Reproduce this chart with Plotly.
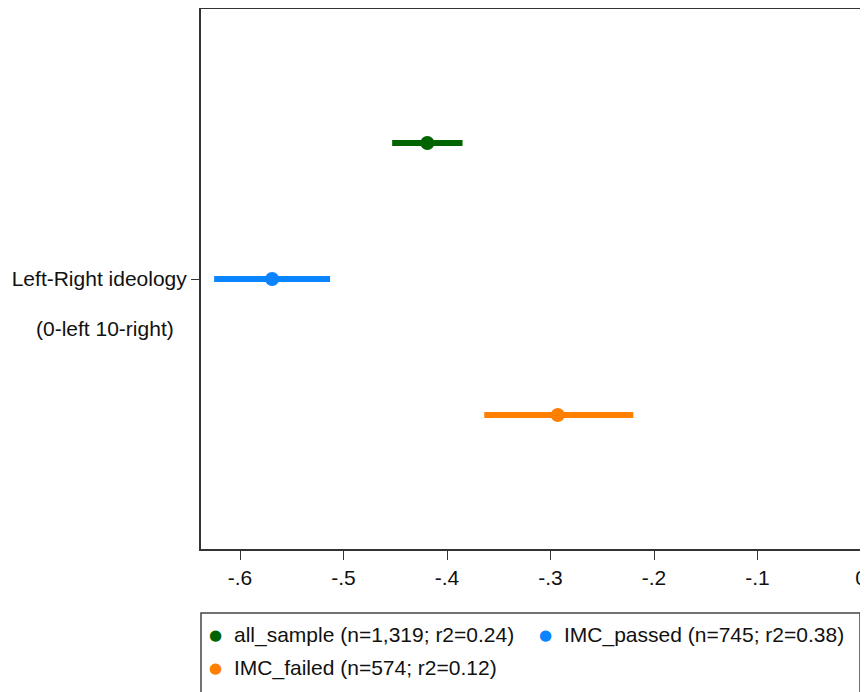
import plotly.graph_objects as go

# Data
series_names = ["all_sample (n=1,319; r2=0.24)",
                "IMC_passed (n=745; r2=0.38)",
                "IMC_failed (n=574; r2=0.12)"]
coef = [-0.419, -0.569, -0.293]
ci_low = [-0.453, -0.625, -0.364]
ci_high = [-0.385, -0.513, -0.220]
colors = ["#006400", "#0a84ff", "#ff8000"]
tick_vals = [-0.6, -0.5, -0.4, -0.3, -0.2, -0.1, 0]
tick_text = ["-.6", "-.5", "-.4", "-.3", "-.2", "-.1", "0"]
var_label = "Left-Right ideology"
var_sub = "(0-left 10-right)"

FONT = "Liberation Sans, Arial, sans-serif"
FS = 21
TXT = "#111111"
OFF = 8  # page body margin
W, H = 868, 692
L, R, T, B = 193, 0, 1, 151
PW, PH = W - L - R, H - T - B


def px_to_paper(px, py):
    # px, py are screen coordinates
    fx, fy = px - OFF, py - OFF
    return (fx - L) / PW, (H - B - fy) / PH


fig = go.Figure()
for i, name in enumerate(series_names):
    y = 1 - i
    fig.add_trace(go.Scatter(
        x=[coef[i]], y=[y], mode="markers", name=name,
        marker=dict(color=colors[i], size=14),
        error_x=dict(type="data", symmetric=False,
                     array=[ci_high[i] - coef[i]],
                     arrayminus=[coef[i] - ci_low[i]],
                     color=colors[i], thickness=6, width=0),
        showlegend=False,
    ))

fig.add_shape(type="line", x0=0, x1=0, xref="x", y0=0, y1=1, yref="paper",
              line=dict(color="#c8204a", width=2), layer="above")

# legend frame
x0, y1 = px_to_paper(201, 613)
x1, y0 = px_to_paper(860, 705)
fig.add_shape(type="rect", xref="paper", yref="paper",
              x0=x0, x1=x1, y0=y0, y1=y1,
              line=dict(color="#444444", width=1.5), fillcolor="rgba(0,0,0,0)")

# legend entries (manual)
entry_pos = [(215, 635), (545, 635), (215, 668)]
for i, name in enumerate(series_names):
    mx, my = entry_pos[i]
    ax, ay = px_to_paper(mx, my)
    fig.add_annotation(text="●", xref="paper", yref="paper", x=ax, y=ay,
                       showarrow=False, xanchor="center", yanchor="middle",
                       font=dict(family="DejaVu Sans", size=15, color=colors[i]))
    tx, ty = px_to_paper(mx + 17, my)
    fig.add_annotation(text=name, xref="paper", yref="paper", x=tx, y=ty,
                       showarrow=False, xanchor="left", yanchor="middle",
                       font=dict(family=FONT, size=FS, color=TXT))

sx, sy = px_to_paper(105, 328)
fig.add_annotation(text=var_sub, xref="paper", yref="paper", x=sx, y=sy,
                   showarrow=False, xanchor="center", yanchor="middle",
                   font=dict(family=FONT, size=FS, color=TXT))

# x range: screen 201 -> -0.6377, 1035 px per unit, plot right at screen 876
x_lo = -0.6377
x_hi = x_lo + PW / 1035.0
# y range: screen 8..549 ; rows at 143, 279, 415 (136 px apart)
y_top = (279 - (T + OFF)) / 136.0
y_bot = -((H - B + OFF) - 279) / 136.0

fig.update_layout(
    width=W, height=H,
    margin=dict(l=L, r=R, t=T, b=B, autoexpand=False),
    paper_bgcolor="white", plot_bgcolor="white",
    font=dict(family=FONT, size=FS, color=TXT),
    showlegend=False,
    xaxis=dict(range=[x_lo, x_hi], tickvals=tick_vals, ticktext=tick_text,
               showgrid=False, zeroline=False, showline=True, mirror=True,
               linecolor="#333333", linewidth=2, ticks="outside", ticklen=9,
               tickcolor="#333333", tickwidth=1, automargin=False,
               tickfont=dict(family=FONT, size=FS, color=TXT)),
    yaxis=dict(range=[y_bot, y_top], tickvals=[0], ticktext=[var_label],
               showgrid=False, zeroline=False, showline=True, mirror=False,
               linecolor="#333333", linewidth=2, ticks="outside", ticklen=8,
               tickcolor="#333333", tickwidth=1, automargin=False,
               tickfont=dict(family=FONT, size=FS, color=TXT)),
)

fig.write_html("out.html",
               post_script="document.documentElement.style.overflow='hidden';"
                           "document.body.style.overflow='hidden';")
